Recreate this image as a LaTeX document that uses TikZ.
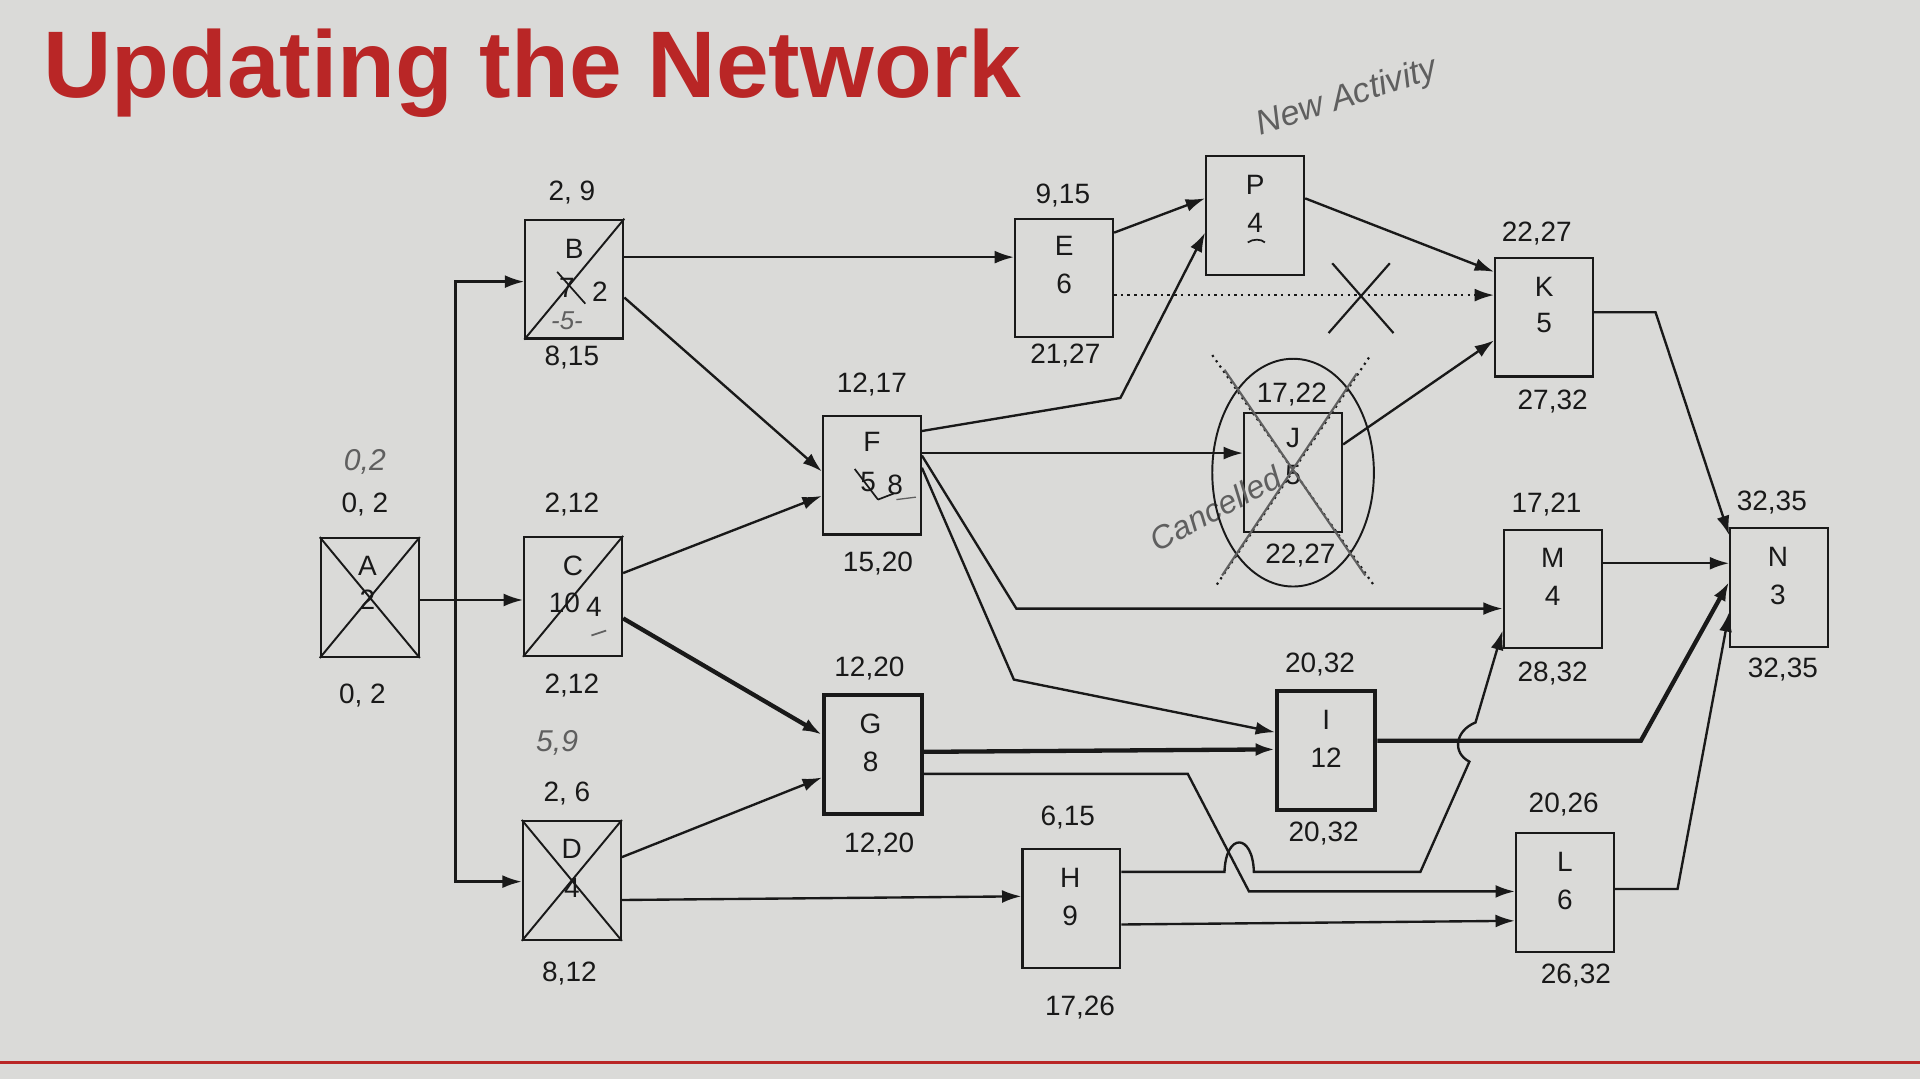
\documentclass[tikz,border=0pt]{standalone}
\usepackage{fontspec}
\setmainfont{Liberation Sans}
\usetikzlibrary{arrows.meta}
\definecolor{titlered}{RGB}{185,38,38}
\definecolor{bg}{RGB}{218,218,216}
\definecolor{ink}{RGB}{25,25,25}
\definecolor{pencil}{RGB}{95,95,95}
\begin{document}
\begin{tikzpicture}[x=0.02cm,y=-0.02cm,
  box/.style={draw=ink,line width=1pt,minimum width=1.6cm,minimum height=1.94cm,inner sep=0pt},
  thickbox/.style={box,line width=2pt},
  lab/.style={font=\fontsize{13}{15}\selectfont,text=ink,inner sep=0pt},
  hand/.style={font=\itshape\fontsize{14}{16}\selectfont,text=pencil,inner sep=0pt},
  edge/.style={draw=ink,line width=1.1pt,-{Latex[length=9pt,width=6pt]}},
  tedge/.style={edge,line width=2pt},
  plain/.style={draw=ink,line width=1.1pt}]
\fill[bg] (0,0) rectangle (1568,881);
\useasboundingbox (0,0) rectangle (1568,881);
\node[anchor=base west,font=\bfseries\fontsize{44}{50}\selectfont,text=titlered,inner sep=0pt] (title) at (35,80) {Updating the Network};
\draw[titlered,line width=1.5pt] (0,868) -- (1568,868);

% boxes
\node[box] (A) at (302,488) {};
\node[box] (B) at (469,228) {};
\node[box] (C) at (468,487) {};
\node[box] (D) at (467,719) {};
\node[box] (E) at (869,227) {};
\node[box] (F) at (712,388) {};
\node[thickbox] (G) at (713,616) {};
\node[box] (H) at (875,742) {};
\node[box] (P) at (1025,176) {};
\node[box] (K) at (1261,259) {};
\node[box] (J) at (1056,386) {};
\node[box] (M) at (1268,481) {};
\node[thickbox] (I) at (1083,613) {};
\node[box] (L) at (1278,729) {};
\node[box] (N) at (1453,480) {};

% crossings in boxes
\draw[ink,line width=0.9pt] (A.north west)--(A.south east) (A.north east)--(A.south west);
\draw[ink,line width=0.9pt] (B.north east)--(B.south west);
\draw[ink,line width=0.9pt] (C.north east)--(C.south west);
\draw[ink,line width=0.9pt] (D.north west)--(D.south east) (D.north east)--(D.south west);

% inner texts
\node[lab] (tA) at (300,462) {A}; \node[lab] (nA) at (300,490) {2};
\node[lab] (tB) at (469,203) {B}; \node[lab] (nB1) at (463,235) {7}; \node[lab] (nB2) at (490,238) {2};
\draw[ink,line width=0.8pt] (455,222)--(478,248);
\node[hand,font=\itshape\fontsize{12}{14}\selectfont] (hB) at (463,262) {-5-};
\node[lab] (nC1) at (461,492) {10}; \node[lab] (nC2) at (485,496) {4};
\node[lab] (tC) at (468,462) {C};
\draw[pencil,line width=0.8pt] (483,519)--(495,515);
\node[lab] (tD) at (467,693) {D}; \node[lab] (nD) at (467,725) {4};
\node[lab] (tE) at (869,201) {E}; \node[lab] (nE) at (869,232) {6};
\node[lab] (tF) at (712,361) {F}; \node[lab] (nF1) at (709,394) {5}; \node[lab] (nF2) at (731,396) {8};
\draw[ink,line width=0.8pt] (698,383)--(717,408) (717,408)--(730,403);
\draw[pencil,line width=0.6pt] (732,408)--(748,406);
\node[lab] (tG) at (711,591) {G}; \node[lab] (nG) at (711,622) {8};
\node[lab] (tH) at (874,717) {H}; \node[lab] (nH) at (874,748) {9};
\node[lab] (tP) at (1025,151) {P}; \node[lab] (nP) at (1025,182) {4};
\draw[ink,line width=0.8pt] (1019,198)..controls (1023,195) and (1030,195)..(1033,198);
\node[lab] (tK) at (1261,234) {K}; \node[lab] (nK) at (1261,264) {5};
\node[lab] (tJ) at (1056,358) {J}; \node[lab] (nJ) at (1056,388) {5};
\node[lab] (tM) at (1268,456) {M}; \node[lab] (nM) at (1268,487) {4};
\node[lab] (tI) at (1083,588) {I}; \node[lab] (nI) at (1083,619) {12};
\node[lab] (tL) at (1278,704) {L}; \node[lab] (nL) at (1278,735) {6};
\node[lab] (tN) at (1452,455) {N}; \node[lab] (nN) at (1452,486) {3};

% time labels
\node[hand] (hA) at (298,377) {0,2};
\node[lab] (a1) at (298,412) {0, 2}; \node[lab] (a2) at (296,568) {0, 2};
\node[lab] (b1) at (467,157) {2, 9}; \node[lab] (b2) at (467,292) {8,15};
\node[lab] (c1) at (467,412) {2,12}; \node[lab] (c2) at (467,560) {2,12};
\node[hand] (hD) at (455,607) {5,9};
\node[lab] (d1) at (463,648) {2, 6}; \node[lab] (d2) at (465,795) {8,12};
\node[lab] (e1) at (868,160) {9,15}; \node[lab] (e2) at (870,290) {21,27};
\node[lab] (f1) at (712,314) {12,17}; \node[lab] (f2) at (717,460) {15,20};
\node[lab] (g1) at (710,546) {12,20}; \node[lab] (g2) at (718,690) {12,20};
\node[lab] (h1) at (872,668) {6,15}; \node[lab] (h2) at (882,823) {17,26};
\node[lab] (i1) at (1078,543) {20,32}; \node[lab] (i2) at (1081,681) {20,32};
\node[lab] (j1) at (1055,322) {17,22}; \node[lab] (j2) at (1062,454) {22,27};
\node[lab] (k1) at (1255,191) {22,27}; \node[lab] (k2) at (1268,328) {27,32};
\node[lab] (m1) at (1263,412) {17,21}; \node[lab] (m2) at (1268,550) {28,32};
\node[lab] (l1) at (1277,657) {20,26}; \node[lab] (l2) at (1287,797) {26,32};
\node[lab] (n1) at (1447,410) {32,35}; \node[lab] (n2) at (1456,547) {32,35};

% handwritten notes
\node[hand,rotate=18,font=\itshape\fontsize{16}{18}\selectfont] (new) at (1100,80) {New Activity};
\node[hand,rotate=28,font=\itshape\fontsize{15}{17}\selectfont] (canc) at (993,415) {Cancelled};

% J cancellation
\draw[ink,line width=0.9pt] (1056,386) ellipse [x radius=66,y radius=93];
\draw[ink,dotted,line width=1pt] (990,290)--(1122,478) (1118,292)--(992,480);
\draw[pencil,line width=1pt] (1000,302)--(1115,470) (1108,305)--(998,470);

% edges
\draw[plain] (A.east |- 0,490) -- (372,490);
\draw[edge] (372,490) -- (C.west |- 0,490);
\draw[edge] (372,490) -- (372,230) -- (B.west |- 0,230);
\draw[edge] (372,490) -- (372,720) -- (D.west |- 0,720);
\draw[edge] (B.east |- 0,210) -- (E.west |- 0,210);
\draw[edge] (B.east |- 0,243) -- (F.west |- 0,385);
\draw[edge] (C.east |- 0,468) -- (F.west |- 0,405);
\draw[tedge] (C.east |- 0,505) -- (G.west |- 0,600);
\draw[edge] (D.east |- 0,700) -- (G.west |- 0,635);
\draw[edge] (D.east |- 0,735) -- (H.west |- 0,732);
\draw[edge] (E.east |- 0,190) -- (P.west |- 0,162);
\draw[ink,dotted,line width=1.1pt,-{Latex[length=9pt,width=6pt]}] (E.east |- 0,241) -- (K.west |- 0,241);
\draw[ink,line width=1pt] (1088,215)--(1138,272) (1135,215)--(1085,272);
\draw[edge] (F.east |- 0,352) -- (915,325) -- (P.west |- 0,190);
\draw[edge] (F.east |- 0,370) -- (J.west |- 0,370);
\draw[edge] (F.east |- 0,372) -- (830,497) -- (M.west |- 0,497);
\draw[edge] (F.east |- 0,382) -- (828,555) -- (I.west |- 0,598);
\draw[tedge] (G.east |- 0,614) -- (I.west |- 0,612);
\draw[edge] (G.east |- 0,632) -- (970,632) -- (1020,728) -- (L.west |- 0,728);
\draw[edge] (H.east |- 0,755) -- (L.west |- 0,752);
\draw[edge] (H.east |- 0,712) -- (1000,712) .. controls (1001,680) and (1023,680) .. (1024,712)
   -- (1160,712) -- (1200,622) .. controls (1186,615) and (1188,597) .. (1205,590) -- (M.west |- 0,515);
\draw[edge] (P.east |- 0,162) -- (K.west |- 0,222);
\draw[edge] (J.east |- 0,363) -- (K.west |- 0,278);
\draw[edge] (K.east |- 0,255) -- (1352,255) -- (N.west |- 0,437);
\draw[edge] (M.east |- 0,460) -- (N.west |- 0,460);
\draw[tedge] (I.east |- 0,605) -- (1340,605) -- (N.west |- 0,475);
\draw[edge] (L.east |- 0,726) -- (1370,726) -- (N.west |- 0,500);
\end{tikzpicture}
\end{document}
